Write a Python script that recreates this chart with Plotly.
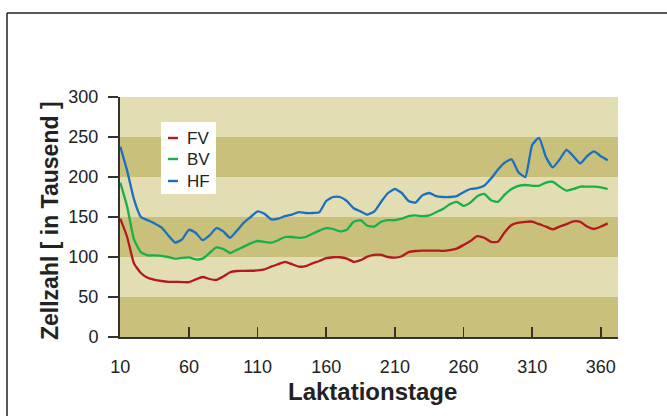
import plotly.graph_objects as go

days = [10, 15, 20, 25, 30, 35, 40, 45, 50, 55, 60, 65, 70, 75, 80, 85, 90, 95, 100,
        105, 110, 115, 120, 125, 130, 135, 140, 145, 150, 155, 160, 165, 170, 175, 180,
        185, 190, 195, 200, 205, 210, 215, 220, 225, 230, 235, 240, 245, 250, 255, 260,
        265, 270, 275, 280, 285, 290, 295, 300, 305, 310, 315, 320, 325, 330, 335, 340,
        345, 350, 355, 360, 365]

fv = [148, 125, 92, 80, 74, 71.5, 70, 69, 69, 68.7, 68.5, 72, 75, 72.5, 71.3, 75.5, 81, 82.5, 82.6,
      82.8, 83.3, 84.5, 88, 91, 94, 91, 88, 88.5, 92, 95, 98.5, 99.7, 99.7, 98, 94,
      96, 100.5, 102.6, 102.6, 100, 99.2, 101, 106, 107.5, 108, 108, 108, 107.6, 108.5, 110.5, 115,
      120, 126, 124, 119, 119, 131, 140, 143, 144, 144.3, 141, 138, 134.5, 138, 141, 144.5,
      144, 138, 135, 138, 142]

bv = [193, 163, 122, 106, 102, 102, 101.5, 100, 98, 99, 99.5, 97, 98, 105, 112, 110, 105, 109, 113,
      117, 120, 119, 118, 121, 125, 125, 124, 125, 129, 133, 136, 135, 132, 134, 144,
      146, 139, 138, 144, 146, 146, 148, 151, 152, 151, 152, 156, 160, 166, 169, 164,
      168, 176, 179, 171, 169, 178, 185, 189, 190, 189, 189, 193, 194, 188, 183, 185,
      188, 188, 188, 187, 185]

hf = [238, 208, 172, 150, 146, 142, 137, 127, 118, 122, 134, 130, 121, 127, 136, 132, 124, 133, 143,
      150, 157, 154, 147, 148, 151, 153, 156, 155, 155, 156, 170, 175, 175, 170, 161,
      157, 153, 157, 169, 180, 185, 180, 170, 168, 177, 180, 176, 175, 175, 176, 181,
      185, 186, 189, 198, 209, 218, 222, 206, 200, 240, 249, 225, 212, 222, 234, 226,
      217, 226, 232, 226, 221]

series_names = ["FV", "BV", "HF"]
series_colors = ["#b3191e", "#17b04b", "#1a6fc0"]
series_values = [fv, bv, hf]

x_ticks = [10, 60, 110, 160, 210, 260, 310, 360]
y_ticks = [0, 50, 100, 150, 200, 250, 300]
band_edges = [0, 50, 100, 150, 200, 250, 300]

x_title = "Laktationstage"
y_title = "Zellzahl [ in Tausend ]"

FONT = "Liberation Sans, Arial, Helvetica, sans-serif"
W, H = 667, 416
L, R, T, B = 120, 49, 97, 79
pw, ph = W - L - R, H - T - B


def px_x(p):
    return (p - L) / pw


def px_y(p):
    return (H - B - p) / ph


fig = go.Figure()

for name, col, vals in zip(series_names, series_colors, series_values):
    fig.add_trace(go.Scatter(x=days, y=vals, mode="lines", name=name,
                             line=dict(color=col, width=2.3, shape="spline", smoothing=0.5),
                             showlegend=False, hoverinfo="skip", cliponaxis=False))

shapes = []
for i in range(len(band_edges) - 1):
    shapes.append(dict(type="rect", xref="paper", yref="y", x0=0, x1=1,
                       y0=band_edges[i], y1=band_edges[i + 1], layer="below",
                       line=dict(width=0),
                       fillcolor="#c8c07b" if i % 2 == 0 else "#e2ddb3"))

# custom legend
shapes.append(dict(type="rect", xref="paper", yref="paper",
                   x0=px_x(161), x1=px_x(216), y0=px_y(194), y1=px_y(122),
                   fillcolor="white", line=dict(width=0), layer="above"))
annotations = []
rows = [138, 159, 181]
for name, col, ry in zip(series_names, series_colors, rows):
    shapes.append(dict(type="line", xref="paper", yref="paper",
                       x0=px_x(168), x1=px_x(178), y0=px_y(ry), y1=px_y(ry),
                       line=dict(color=col, width=2.4), layer="above"))
    annotations.append(dict(text=name, xref="paper", yref="paper", x=px_x(185), y=px_y(ry),
                            xanchor="left", yanchor="middle", showarrow=False,
                            font=dict(family=FONT, size=17, color="#222")))

# figure frame (left and top lines)
shapes.append(dict(type="line", xref="paper", yref="paper",
                   x0=px_x(7), x1=px_x(7), y0=px_y(13), y1=px_y(420),
                   line=dict(color="#222", width=1.5)))
shapes.append(dict(type="line", xref="paper", yref="paper",
                   x0=px_x(7), x1=px_x(670), y0=px_y(13), y1=px_y(13),
                   line=dict(color="#222", width=1.5)))

annotations.append(dict(text=x_title, xref="paper", yref="paper", x=0.5 * (px_x(287) + px_x(457)),
                        y=px_y(391), xanchor="center", yanchor="middle", showarrow=False,
                        font=dict(family=FONT, size=24, color="#222", weight="bold")))
annotations.append(dict(text=y_title, xref="paper", yref="paper", x=px_x(50), y=px_y(221),
                        xanchor="center", yanchor="middle", showarrow=False, textangle=-90,
                        font=dict(family=FONT, size=23, color="#222", weight="bold")))

fig.update_layout(
    width=W, height=H,
    margin=dict(l=L, r=R, t=T, b=B, pad=0, autoexpand=False),
    paper_bgcolor="white", plot_bgcolor="#e2ddb3",
    shapes=shapes, annotations=annotations,
    showlegend=False,
    font=dict(family=FONT, size=18, color="#222"),
)
fig.update_xaxes(range=[9.8, 372.5], tickvals=x_ticks, ticktext=[str(v) for v in x_ticks],
                 ticks="inside", ticklen=10, tickwidth=1.5, tickcolor="#333",
                 showline=True, linecolor="#333", linewidth=2, showgrid=False, zeroline=False,
                 ticklabelstandoff=12, tickfont=dict(size=18), automargin=False)
fig.update_yaxes(range=[0, 300], tickvals=y_ticks, ticktext=[str(v) for v in y_ticks],
                 ticks="outside", ticklen=10, tickwidth=1.5, tickcolor="#333",
                 showline=True, linecolor="#333", linewidth=2, showgrid=False, zeroline=False,
                 ticklabelstandoff=6, tickfont=dict(size=18), automargin=False)

fig.write_html("out.html", config={"displayModeBar": False, "staticPlot": True},
               post_script="document.body.style.margin='0';document.body.style.padding='0';"
                           "document.body.style.overflow='hidden';"
                           "document.documentElement.style.overflow='hidden';")
